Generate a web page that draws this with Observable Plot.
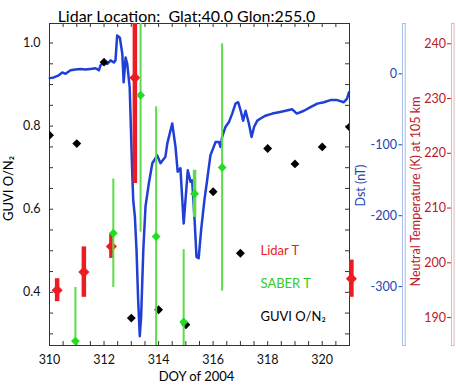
<!DOCTYPE html>
<html><head><meta charset="utf-8">
<script src="https://cdn.jsdelivr.net/npm/d3@7"></script>
<script src="https://cdn.jsdelivr.net/npm/@observablehq/plot@0.6"></script>
<style>
body{margin:0;background:#fff;}
#chart{position:relative;width:456px;height:387px;overflow:hidden;}
#chart svg{position:absolute;left:0;top:0;}
</style></head><body><div id="chart"></div>
<script>
// ---- data ----
const dstDays = [310.01,310.16,310.34,310.47,310.59,310.77,310.95,311.14,311.32,311.50,311.69,311.81,311.87,311.99,312.12,312.24,312.36,312.42,312.48,312.58,312.67,312.72,312.79,312.85,312.94,313.03,313.07,313.13,313.19,313.25,313.31,313.36,313.44,313.52,313.64,313.77,313.95,314.07,314.25,314.32,314.50,314.62,314.70,314.80,314.92,315.07,315.17,315.23,315.32,315.39,315.47,315.56,315.68,315.78,315.90,316.09,316.21,316.27,316.33,316.45,316.58,316.70,316.82,316.92,317.01,317.10,317.19,317.31,317.41,317.50,317.62,317.74,317.92,318.17,318.41,318.66,318.90,319.07,319.33,319.57,319.82,320.06,320.30,320.55,320.79,320.91,320.98];
const dstValues = [-6,-5,-2,2,0,5,6,7,6,7,8,5,12,16,14,19,16,19,54,51,28,-12,23,14,-19,-136,-178,-201,-248,-318,-370,-342,-248,-187,-155,-126,-115,-126,-117,-98,-70,-103,-138,-133,-211,-136,-152,-150,-206,-258,-260,-220,-178,-150,-115,-96,-96,-103,-89,-75,-68,-56,-42,-40,-52,-66,-52,-70,-89,-75,-66,-63,-59,-56,-54,-52,-50,-56,-52,-47,-42,-40,-37,-37,-40,-35,-26];

const guviDays = [310,311,312,313,314,315,316,317,318,319,320,321];
const guviValues = [0.778,0.758,0.954,0.338,0.358,0.322,0.642,0.494,0.746,0.709,0.750,0.798];

const lidarDays = [310.28,311.26,312.27,313.13,321.07];
const lidarTemps = [195.0,198.3,203.0,233.8,197.1];
const lidarErrors = [2.1,4.6,2.2,19.3,3.4];

const saberDays = [310.95,312.34,313.34,313.91,314.92,315.32,316.33];
const saberTemps = [185.7,205.4,230.6,204.8,189.2,212.6,217.4];
const saberErrors = [9.8,9.9,25.0,23.7,13.2,4.3,22.6];

const xTickLabels = [310,312,314,316,318,320];
const onTickLabels = [0.4,0.6,0.8,1.0];
const dstTickLabels = [0,-100,-200,-300];
const tempTickLabels = [190,200,210,220,230,240];

const titleText = "Lidar Location:  Glat:40.0 Glon:255.0";
const xLabel = "DOY of 2004";
const leftLabel = "GUVI O/N\u2082";
const dstLabel = "Dst (nT)";
const tempLabel = "Neutral Temperature (K) at 105 km";
const legendLabels = ["Lidar T","SABER T","GUVI O/N\u2082"];

// ---- layout ----
const W = 456, H = 387;
const M = {top: 23, bottom: 42, left: 49, right: 107};
const xDomain = [310, 321];
const xRange = [M.left, W - M.right];
const onDomain = [0.272, 1.047];
const dstDomain = [-383, 71];
const tDomain = [184.9, 243.7];
const FONT = "Lato, 'Open Sans', sans-serif";
const frameH = H - M.top - M.bottom, frameW = W - M.left - M.right;

const dst = dstDays.map((d, i) => ({day: d, v: dstValues[i]}));
const guvi = guviDays.map((d, i) => ({day: d, v: guviValues[i]}));
const lidar = lidarDays.map((d, i) => ({day: d, t: lidarTemps[i], e: lidarErrors[i]}));
const saber = saberDays.map((d, i) => ({day: d, t: saberTemps[i], e: saberErrors[i]}));

const RED = "#ec1c24", GREEN = "#22dd22", GREENLINE = "#5cdc4a", BLUE = "#1f3fd6";
const DSTCOL = "#2446b0", TCOL = "#b8202a";

function style(color) {
  return {fontFamily: FONT, fontSize: "12.5px", background: "transparent", overflow: "visible", color};
}

// ---- Dst plot (bottom layer) ----
const dstPlot = Plot.plot({
  width: W, height: H, marginTop: M.top, marginBottom: M.bottom,
  marginLeft: 402, marginRight: W - 404.7,
  style: style(DSTCOL),
  x: {domain: xDomain, range: xRange, axis: null},
  y: {domain: dstDomain, ticks: dstTickLabels, tickFormat: d => String(d), tickSize: 3.5, tickPadding: 2, label: null, axis: "left"},
  marks: [
    Plot.frame({stroke: "#a8bde8"}),
    Plot.line(dst, {x: "day", y: "v", stroke: BLUE, strokeWidth: 2.5, strokeLinejoin: "round"})
  ]
});

// ---- base plot: frame, O/N2 axis, GUVI ----
const minorX = d3.range(310, 321.01, 0.5);
const minorY = d3.range(0.30, 1.001, 0.05);
const basePlot = Plot.plot({
  width: W, height: H, marginTop: M.top, marginBottom: M.bottom, marginLeft: M.left, marginRight: M.right,
  style: style("#111"),
  x: {domain: xDomain, ticks: xTickLabels, tickSize: 0, tickPadding: 9.5, label: null},
  y: {domain: onDomain, ticks: onTickLabels, tickFormat: ".1f", tickSize: 0, tickPadding: 9, label: null},
  marks: [
    Plot.tickX(minorX, {x: d => d, insetTop: frameH - 4, stroke: "#333"}),
    Plot.tickX(minorX, {x: d => d, insetBottom: frameH - 4, stroke: "#333"}),
    Plot.tickY(minorY, {y: d => d, insetRight: frameW - 4, stroke: "#333"}),
    Plot.tickY(minorY, {y: d => d, insetLeft: frameW - 4, stroke: "#333"}),
    Plot.frame({stroke: "#333"}),
    Plot.dot(guvi, {x: "day", y: "v", symbol: "diamond2", r: 4, fill: "#000", clip: true}),
    Plot.text([titleText], {text: d => d, frameAnchor: "top", textAnchor: "middle", dx: -13, dy: -12.7, fontSize: 16, fontWeight: 400, fill: "#000"}),
    Plot.text([xLabel], {text: d => d, frameAnchor: "bottom", textAnchor: "middle", dx: -3, dy: 35, fontSize: 13, fill: "#000"}),
    Plot.text([leftLabel], {text: d => d, frameAnchor: "left", textAnchor: "middle", dx: -40.5, dy: 4, rotate: -90, fontSize: 13, fill: "#000"}),
    Plot.text([dstLabel], {text: d => d, frameAnchor: "right", textAnchor: "middle", dx: 11.5, dy: 1, rotate: -90, fontSize: 12.5, fill: DSTCOL}),
    Plot.text([tempLabel], {text: d => d, frameAnchor: "right", textAnchor: "middle", dx: 66, dy: 7, rotate: -90, fontSize: 12.5, fill: TCOL}),
    Plot.text([legendLabels[0]], {text: d => d, frameAnchor: "top-left", dx: 211, dy: 222, textAnchor: "start", fontSize: 13, fill: RED}),
    Plot.text([legendLabels[1]], {text: d => d, frameAnchor: "top-left", dx: 211, dy: 255, textAnchor: "start", fontSize: 13, fill: "#33cc22"}),
    Plot.text([legendLabels[2]], {text: d => d, frameAnchor: "top-left", dx: 211, dy: 288, textAnchor: "start", fontSize: 13, fill: "#000"})
  ]
});

// ---- temperature plot (top layer) ----
const lo = d => Math.max(d.t - d.e, tDomain[0]);
const hi = d => Math.min(d.t + d.e, tDomain[1]);
const tPlot = Plot.plot({
  width: W, height: H, marginTop: M.top, marginBottom: M.bottom,
  marginLeft: 451, marginRight: W - 453.6,
  style: style(TCOL),
  x: {domain: xDomain, range: xRange, axis: null},
  y: {domain: tDomain, ticks: tempTickLabels, tickSize: 4, tickPadding: 1.5, label: null, axis: "left"},
  marks: [
    Plot.frame({stroke: "#e6b4b4"}),
    Plot.ruleX(lidar, {x: "day", y1: lo, y2: hi, stroke: RED, strokeWidth: 4.5}),
    Plot.dot(lidar, {x: "day", y: "t", symbol: "diamond2", r: 5, fill: RED}),
    Plot.ruleX(saber, {x: "day", y1: lo, y2: hi, stroke: GREENLINE, strokeWidth: d => d.e < 6 ? 3.5 : 2}),
    Plot.dot(saber, {x: "day", y: "t", symbol: "diamond2", r: 4, fill: GREEN})
  ]
});

const chart = document.getElementById("chart");
for (const p of [dstPlot, basePlot, tPlot]) {
  p.style.position = "absolute"; p.style.left = "0px"; p.style.top = "0px";
  chart.appendChild(p);
}
</script></body></html>
